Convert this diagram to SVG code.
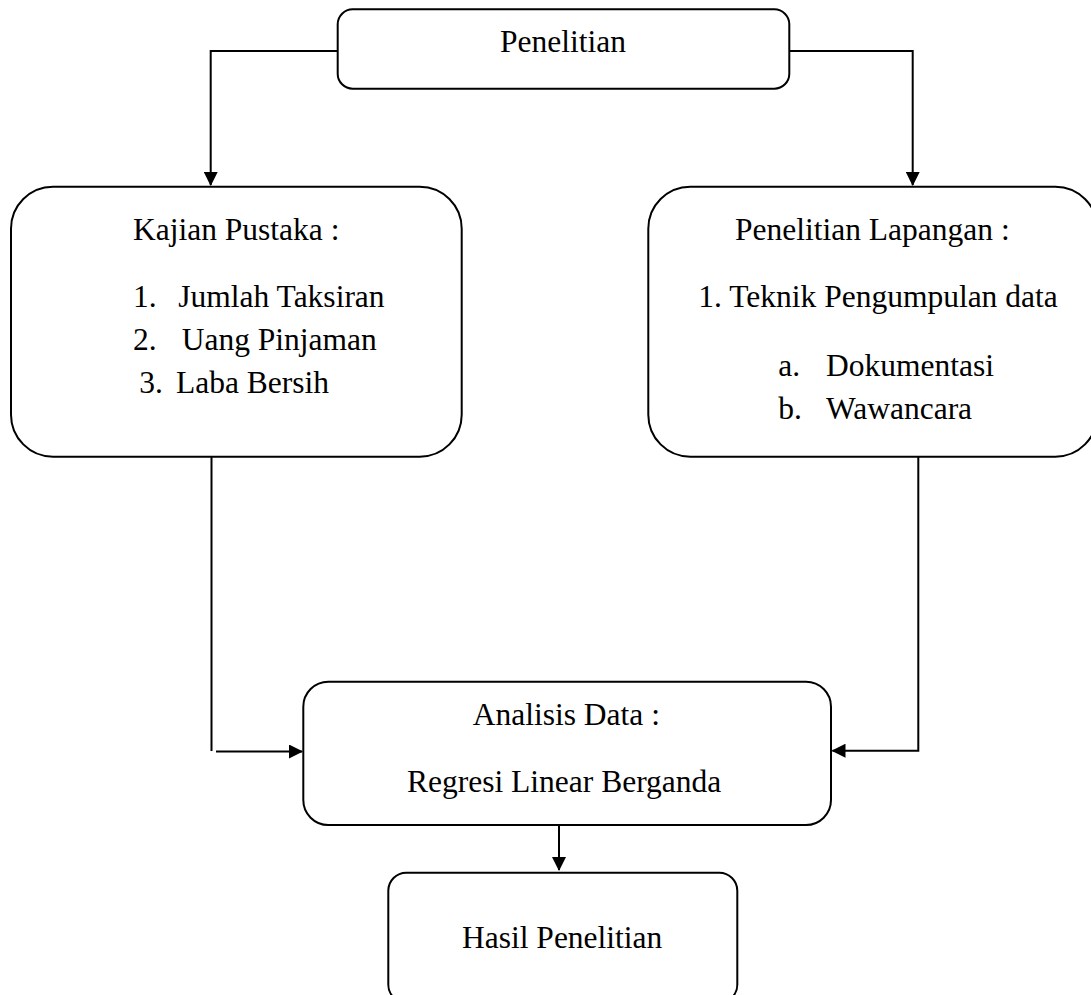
<svg xmlns="http://www.w3.org/2000/svg" width="1091" height="995" viewBox="0 0 1091 995">
  <style>
    .box { fill: #ffffff; stroke: #000000; stroke-width: 2; }
    .t { font-family: "Liberation Serif", "Times New Roman", serif; font-size: 31.5px; fill: #000000; }
    .c { fill: none; stroke: #000000; stroke-width: 2; }
  </style>
  <defs>
    <marker id="arrow" viewBox="0 0 14 14" refX="13" refY="7" markerWidth="14" markerHeight="14" markerUnits="userSpaceOnUse" orient="auto">
      <path d="M0,0 L14,7 L0,14 z" fill="#000000"/>
    </marker>
  </defs>
  <rect width="1091" height="995" fill="#ffffff"/>

  <g id="connectors">
    <path class="c" d="M337.7,51 H210.7 V185" marker-end="url(#arrow)"/>
    <path class="c" d="M789.3,51 H912.7 V185" marker-end="url(#arrow)"/>
    <path class="c" d="M211.5,457 V751"/>
    <path class="c" d="M216,751.5 H302" marker-end="url(#arrow)"/>
    <path class="c" d="M918.3,453 V750.7 H832.5" marker-end="url(#arrow)"/>
    <path class="c" d="M559,825 V870" marker-end="url(#arrow)"/>
  </g>

  <g id="node-penelitian">
    <rect class="box" x="337.7" y="9.3" width="451.6" height="79.4" rx="15" ry="15"/>
    <text class="t" x="500" y="51.5">Penelitian</text>
  </g>

  <g id="node-kajian-pustaka">
    <rect class="box" x="11" y="186.7" width="450.7" height="270" rx="42" ry="42"/>
    <text class="t" x="133" y="240">Kajian Pustaka :</text>
    <text class="t" x="133" y="306.5">1.</text>
    <text class="t" x="178.3" y="306.5">Jumlah Taksiran</text>
    <text class="t" x="133" y="350">2.</text>
    <text class="t" x="181.7" y="350">Uang Pinjaman</text>
    <text class="t" x="139.3" y="393.3">3.</text>
    <text class="t" x="176" y="393.3">Laba Bersih</text>
  </g>

  <g id="node-penelitian-lapangan">
    <rect class="box" x="648.3" y="186.7" width="449" height="270" rx="42" ry="42"/>
    <text class="t" x="735" y="240">Penelitian Lapangan :</text>
    <text class="t" x="698.3" y="306.7">1. Teknik Pengumpulan data</text>
    <text class="t" x="778.3" y="376">a.</text>
    <text class="t" x="826" y="376">Dokumentasi</text>
    <text class="t" x="778.3" y="419.3">b.</text>
    <text class="t" x="826" y="419.3">Wawancara</text>
  </g>

  <g id="node-analisis-data">
    <rect class="box" x="303.3" y="681.7" width="527.7" height="143.3" rx="25" ry="25"/>
    <text class="t" x="472.7" y="725">Analisis Data :</text>
    <text class="t" x="407" y="792">Regresi Linear Berganda</text>
  </g>

  <g id="node-hasil-penelitian">
    <rect class="box" x="388.3" y="872.7" width="349" height="130" rx="18" ry="18"/>
    <text class="t" x="462" y="948">Hasil Penelitian</text>
  </g>
</svg>
